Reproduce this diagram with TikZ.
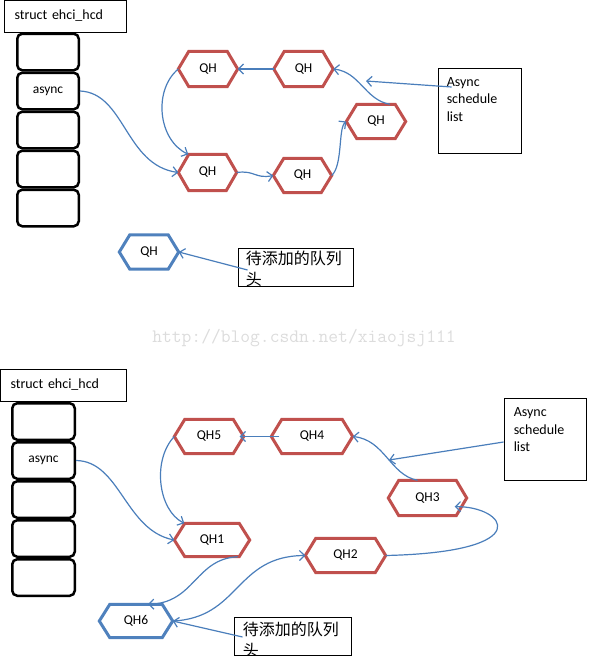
\documentclass[tikz,border=0pt]{standalone}
\usepackage{fontspec}
\setmainfont{Carlito}
\newfontfamily\cjk{Noto Sans CJK SC}
\usetikzlibrary{arrows.meta}
\definecolor{qhred}{HTML}{C0504D}
\definecolor{qhblue}{HTML}{4F81BD}
\definecolor{lnblue}{HTML}{4A7EBB}
\definecolor{wmgray}{HTML}{DCDCDC}
\newcommand\hexnode[6]{%
  \node[hexbox, minimum width=#3pt, minimum height=#4pt] (#1) at (#2) {#6};
  \draw[hexline, draw=#5] (#1.west) -- ([xshift=10.5pt]#1.north west) -- ([xshift=-10.5pt]#1.north east) -- (#1.east) -- ([xshift=-10.5pt]#1.south east) -- ([xshift=10.5pt]#1.south west) -- cycle;
}
\begin{document}
\begin{tikzpicture}[x=1pt,y=-1pt,
 hexbox/.style={inner sep=0pt, font=\fontsize{13.5}{15}\selectfont},
 hexline/.style={line width=3pt, line join=miter},
 stk/.style={draw, line width=2.5pt, rounded corners=5pt, inner sep=0pt, minimum height=36.5pt, font=\fontsize{13.5}{15}\selectfont},
 hdr/.style={draw, line width=0.9pt, inner xsep=10pt, inner ysep=0pt, minimum height=32pt, align=left, font=\fontsize{14}{16}\selectfont},
 thinbox/.style={draw, line width=0.9pt, inner sep=0pt},
 lbl/.style={inner sep=0pt, align=left, anchor=north west, font=\fontsize{14}{17.5}\selectfont},
 cjklbl/.style={inner sep=0pt, align=left, anchor=north west, font=\cjk\fontsize{16}{21}\selectfont},
 conn/.style={draw=lnblue, line width=1.2pt, -{Straight Barb[length=5pt,width=10pt]}},
]
\useasboundingbox (0,0) rectangle (589,656);

% ---------- top diagram ----------
\node[hdr, text width=102pt] (h1) at (65.5,16) {struct ehci\_hcd};
\node[stk, minimum width=61.5pt] (s1) at (48,52) {};
\node[stk, minimum width=61.5pt] (s2) at (48,91) {async};
\node[stk, minimum width=61.5pt] (s3) at (48,130) {};
\node[stk, minimum width=61.5pt] (s4) at (48,169) {};
\node[stk, minimum width=61.5pt] (s5) at (48,208) {};

\hexnode{qa}{208,69}{59}{35}{qhred}{QH}
\hexnode{qb}{303.5,69}{59}{35}{qhred}{QH}
\hexnode{qc}{376,121.5}{59}{34}{qhred}{QH}
\hexnode{qd}{207.5,172.5}{58}{36}{qhred}{QH}
\hexnode{qe}{302.5,175.5}{58}{34}{qhred}{QH}
\hexnode{qf}{149,252}{59}{34}{qhblue}{QH}

\node[thinbox, minimum width=83pt, minimum height=85pt] (ab) at (479.5,110.5) {};
\node[lbl] (abt) at ([xshift=9pt,yshift=-9.5pt]ab.north west) {Async\\schedule\\list};

\node[thinbox, minimum width=115pt, minimum height=38pt] (pb) at (295.5,267) {};
\begin{scope}
  \clip (pb.south west) rectangle (pb.north east);
  \node[cjklbl] (pbt) at ([xshift=8pt,yshift=-3pt]pb.north west) {待添加的队列\\头};
\end{scope}

\coordinate (ap1) at (366,81);
\draw[conn] (s2.east) .. controls (125,93) and (125,165) .. (qd.west);
\draw[conn] (qa.west) .. controls (153,90) and (158,140) .. ([xshift=10pt]qd.north west);
\draw[conn] (qb.west) -- (qa.east);
\draw[conn] (qd.east) .. controls (255,170) and (255,179) .. (qe.west);
\draw[conn] (qe.east) .. controls (343,165) and (338,128) .. (qc.west);
\draw[conn] ([xshift=14pt]qc.north) .. controls (365,100) and (360,72) .. (qb.east);
\draw[conn] ([xshift=14pt,yshift=23.5pt]ab.west) -- (ap1);
\draw[conn] ([xshift=10pt,yshift=-3pt]pb.west) -- (qf.east);

% ---------- watermark ----------
\node[text=wmgray, font=\ttfamily\fontsize{19}{21}\selectfont, inner sep=0pt] (wm) at (304,338) {http://blog.csdn.net/xiaojsj111};

% ---------- bottom diagram ----------
\node[hdr, text width=106pt] (h2) at (63.5,385) {struct ehci\_hcd};
\node[stk, minimum width=62.5pt] (t1) at (43.5,421.5) {};
\node[stk, minimum width=62.5pt] (t2) at (43.5,460.5) {async};
\node[stk, minimum width=62.5pt] (t3) at (43.5,499.5) {};
\node[stk, minimum width=62.5pt] (t4) at (43.5,538.5) {};
\node[stk, minimum width=62.5pt] (t5) at (43.5,577.5) {};

\hexnode{q5}{209,436.5}{69}{34}{qhred}{QH5}
\hexnode{q4}{312,436.5}{81}{34}{qhred}{QH4}
\hexnode{q3}{427.5,498}{78}{35}{qhred}{QH3}
\hexnode{q1}{212,540}{75}{33}{qhred}{QH1}
\hexnode{q2}{345.5,555.5}{80}{34}{qhred}{QH2}
\hexnode{q6}{136,621}{73}{33}{qhblue}{QH6}

\node[thinbox, minimum width=82pt, minimum height=82pt] (ab2) at (545,439) {};
\node[lbl] (abt2) at ([xshift=10pt,yshift=-10pt]ab2.north west) {Async\\schedule\\list};

\node[thinbox, minimum width=117pt, minimum height=38pt] (pb2) at (292.5,636) {};
\begin{scope}
  \clip (pb2.south west) rectangle (pb2.north east);
  \node[cjklbl] (pbt2) at ([xshift=9pt,yshift=-5pt]pb2.north west) {待添加的队列\\头};
\end{scope}

\coordinate (ap2) at (389,460);
\draw[conn] (t2.east) .. controls (120,461) and (125,530) .. (q1.west);
\draw[conn] (q5.west) .. controls (152,460) and (158,510) .. ([xshift=10pt]q1.north west);
\draw[conn] ([xshift=8pt]q4.west) -- ([xshift=-4pt]q5.east);
\draw[conn] ([xshift=-10pt]q3.north) .. controls (390,475) and (385,440) .. (q4.east);
\draw[conn] ([yshift=-3pt]ab2.west) -- (ap2);
\draw[conn] (q2.east) .. controls (540,552) and (505,506) .. ([xshift=-12pt,yshift=9pt]q3.south east);
\draw[conn] ([xshift=-12pt]q1.south east) .. controls (195,559) and (195,603) .. ([xshift=12pt]q6.north);
\draw[conn] (q6.east) .. controls (240,618) and (235,556) .. (q2.west);
\draw[conn] ([xshift=9pt,yshift=-1pt]pb2.west) -- (q6.east);
\end{tikzpicture}
\end{document}
